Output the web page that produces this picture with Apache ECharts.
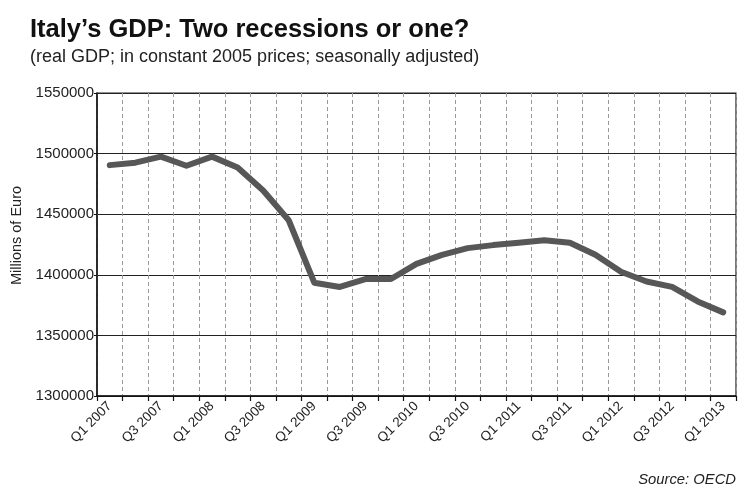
<!DOCTYPE html>
<html>
<head>
<meta charset="utf-8">
<script src="https://cdn.jsdelivr.net/npm/echarts@6/dist/echarts.min.js"></script>
<style>
html,body{margin:0;padding:0;background:#fff;}
#chart{width:750px;height:495px;}
</style>
</head>
<body>
<div id="chart"></div>
<script>
const categories = [
  'Q1 2007','Q2 2007','Q3 2007','Q4 2007',
  'Q1 2008','Q2 2008','Q3 2008','Q4 2008',
  'Q1 2009','Q2 2009','Q3 2009','Q4 2009',
  'Q1 2010','Q2 2010','Q3 2010','Q4 2010',
  'Q1 2011','Q2 2011','Q3 2011','Q4 2011',
  'Q1 2012','Q2 2012','Q3 2012','Q4 2012',
  'Q1 2013'
];
const gdp = [
  1490500, 1492500, 1497500, 1490000,
  1497500, 1488500, 1469500, 1445000,
  1393500, 1390000, 1396500, 1396500,
  1409000, 1416500, 1422000, 1424500,
  1426500, 1428500, 1426500, 1416500,
  1402500, 1394500, 1390000, 1378000,
  1369000
];
const yTicks = { min: 1300000, max: 1550000, interval: 50000 };
const titleText = 'Italy\u2019s GDP: Two recessions or one?';
const subtitleText = '(real GDP; in constant 2005 prices; seasonally adjusted)';
const yAxisName = 'Millions of Euro';
const sourceText = 'Source: OECD';

const FONT = 'Liberation Sans, Arial, sans-serif';
const chart = echarts.init(document.getElementById('chart'));
chart.setOption({
  animation: false,
  backgroundColor: '#fff',
  title: [
    { text: titleText, left: 25, top: 12,
      textStyle: { fontFamily: FONT, fontWeight: 'bold', fontSize: 25.5, color: '#111' } },
    { text: subtitleText, left: 25, top: 43,
      textStyle: { fontFamily: FONT, fontWeight: 'normal', fontSize: 18, color: '#222' } },
    { text: sourceText, right: 9, top: 467,
      textStyle: { fontFamily: FONT, fontWeight: 'normal', fontStyle: 'italic', fontSize: 14.8, color: '#222' } }
  ],
  grid: { left: 97, right: 14, top: 93, bottom: 99, show: true, borderColor: '#222', borderWidth: 1.2, backgroundColor: 'transparent' },
  xAxis: {
    type: 'category',
    data: categories,
    boundaryGap: true,
    axisLine: { lineStyle: { color: '#111', width: 1.5 } },
    axisTick: { show: true, interval: 0, length: 5, lineStyle: { color: '#111', width: 1.2 } },
    axisLabel: { interval: 1, rotate: 45, fontSize: 13.5, color: '#222', margin: 8, fontFamily: FONT },
    splitLine: { show: true, interval: 0, lineStyle: { color: '#999', type: [4, 3], width: 1 } }
  },
  yAxis: {
    type: 'value',
    min: yTicks.min, max: yTicks.max, interval: yTicks.interval,
    name: yAxisName,
    nameLocation: 'middle',
    nameGap: 70,
    nameTextStyle: { fontSize: 14.5, color: '#222', fontFamily: FONT, padding: [0, 0, 0, 18] },
    axisLine: { show: true, lineStyle: { color: '#111', width: 1.5 } },
    axisTick: { show: true, length: 3, lineStyle: { color: '#111' } },
    axisLabel: { fontSize: 15, color: '#222', margin: 3, fontFamily: FONT,
      formatter: function (v) { return String(v); } },
    splitLine: { show: true, lineStyle: { color: '#222', width: 1.2 } }
  },
  series: [{
    type: 'line',
    data: gdp,
    symbol: 'none',
    lineStyle: { color: '#575757', width: 6, cap: 'round', join: 'round' }
  }]
});
</script>
</body>
</html>
